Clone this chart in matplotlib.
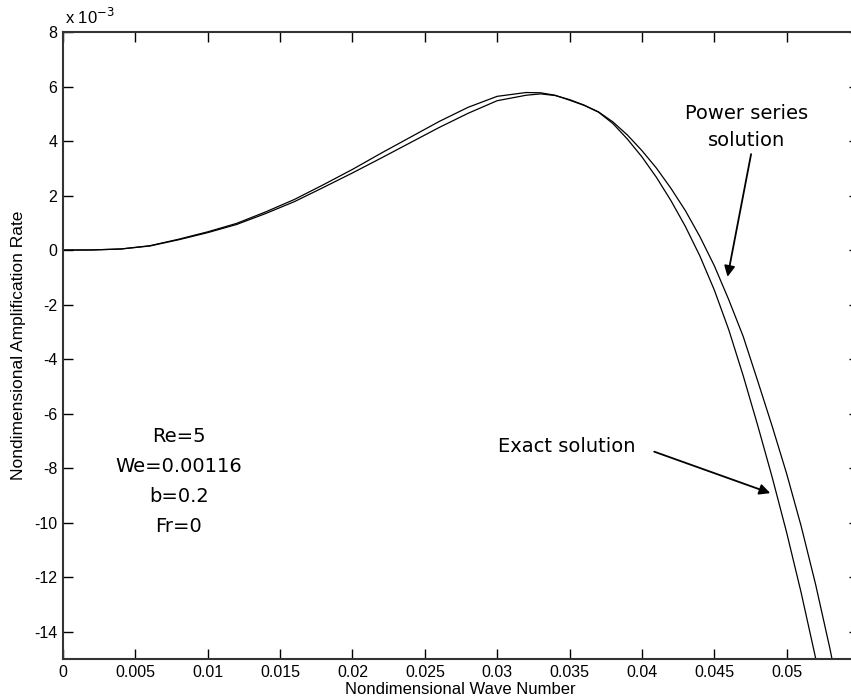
import matplotlib.pyplot as plt

plt.rcParams['font.family'] = ['Liberation Sans', 'DejaVu Sans']
plt.rcParams['axes.unicode_minus'] = False

# wave number and amplification rate (units of 1e-3)
x_exact = [0, 0.002, 0.004, 0.006, 0.008, 0.010, 0.012, 0.014, 0.016, 0.018,
           0.020, 0.022, 0.024, 0.026, 0.028, 0.030, 0.032, 0.033, 0.034, 0.035,
           0.036, 0.037, 0.038, 0.039, 0.040, 0.041, 0.042, 0.043, 0.044, 0.045,
           0.046, 0.047, 0.048, 0.049, 0.050, 0.051, 0.052, 0.053]
y_exact = [0, 0.005, 0.04, 0.16, 0.40, 0.67, 0.98, 1.40, 1.86, 2.40,
           2.96, 3.56, 4.14, 4.72, 5.24, 5.64, 5.78, 5.77, 5.68, 5.50,
           5.31, 5.06, 4.64, 4.07, 3.42, 2.67, 1.82, 0.87, -0.21, -1.46,
           -2.92, -4.61, -6.43, -8.33, -10.36, -12.56, -14.96, -17.5]

x_power = [0, 0.002, 0.004, 0.006, 0.008, 0.010, 0.012, 0.014, 0.016, 0.018,
           0.020, 0.022, 0.024, 0.026, 0.028, 0.030, 0.032, 0.033, 0.034, 0.035,
           0.036, 0.037, 0.038, 0.039, 0.040, 0.041, 0.042, 0.043, 0.044, 0.045,
           0.046, 0.047, 0.048, 0.049, 0.050, 0.051, 0.052, 0.053, 0.054]
y_power = [0, 0.005, 0.04, 0.15, 0.38, 0.64, 0.94, 1.34, 1.78, 2.30,
           2.83, 3.38, 3.94, 4.50, 5.02, 5.48, 5.68, 5.73, 5.67, 5.52,
           5.32, 5.07, 4.70, 4.22, 3.65, 3.01, 2.27, 1.45, 0.50, -0.57,
           -1.82, -3.17, -4.80, -6.46, -8.20, -10.12, -12.26, -14.64, -17.3]

params = ['Re=5', 'We=0.00116', 'b=0.2', 'Fr=0']

fig = plt.figure(figsize=(8.51, 7.0), dpi=100)
ax = fig.add_axes([63 / 851, 41 / 700, 796 / 851, 627 / 700])

ax.plot(x_exact, y_exact, color='black', lw=0.9)
ax.plot(x_power, y_power, color='black', lw=0.9)

ax.set_xlim(0, 0.055)
ax.set_ylim(-15, 8)
ax.set_xticks([0, 0.005, 0.01, 0.015, 0.02, 0.025, 0.03, 0.035, 0.04, 0.045, 0.05, 0.055])
ax.set_xticklabels(['0', '0.005', '0.01', '0.015', '0.02', '0.025', '0.03',
                    '0.035', '0.04', '0.045', '0.05', ''])
ax.set_yticks(range(-14, 9, 2))
ax.tick_params(direction='in', length=7, width=1, top=True, right=True,
               labelsize=11.5, pad=4)
for s in ax.spines.values():
    s.set_linewidth(1.5)
    s.set_color('#333333')

ax.set_xlabel('Nondimensional Wave Number', fontsize=12)
ax.xaxis.set_label_coords(397 / 796, -23 / 627)
ax.set_ylabel('Nondimensional Amplification Rate', fontsize=12.5)
ax.yaxis.set_label_coords(-37 / 796, 0.5)
ax.text(0.002, 1.008, r'x 10$^{-3}$', transform=ax.transAxes, fontsize=12,
        ha='left', va='bottom')

for i, p in enumerate(params):
    ax.text(0.008, -6.85 - i * 1.1, p, fontsize=14, ha='center', va='center',
            family=['DejaVu Sans'])

ax.text(0.0472, 4.52, 'Power series\nsolution', fontsize=14, ha='center',
        va='center', linespacing=1.5, family=['DejaVu Sans'])
ax.annotate('', xy=(0.04588, -1.08), xytext=(0.04758, 3.62),
            arrowprops=dict(arrowstyle='-|>', color='black', lw=1.3,
                            mutation_scale=16))

ax.text(0.0348, -7.2, 'Exact solution', fontsize=14, ha='center',
        va='center', family=['DejaVu Sans'])
ax.annotate('', xy=(0.04905, -8.95), xytext=(0.04067, -7.36),
            arrowprops=dict(arrowstyle='-|>', color='black', lw=1.3,
                            mutation_scale=16))

fig.savefig('out.png', dpi=100)
